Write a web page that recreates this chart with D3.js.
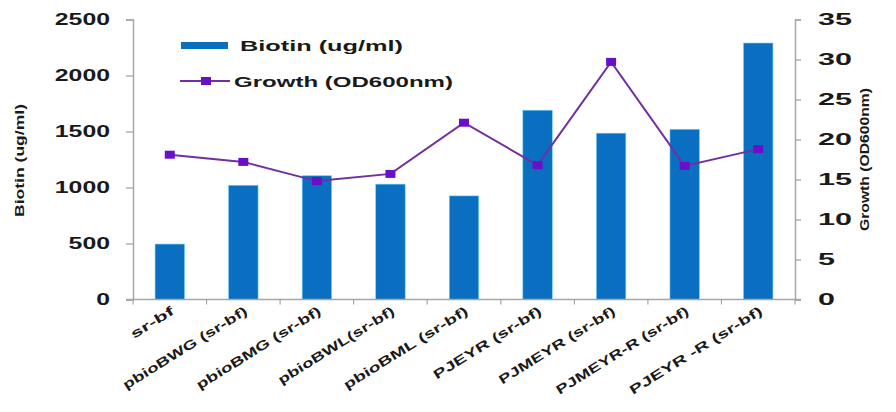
<!DOCTYPE html>
<html>
<head>
<meta charset="utf-8">
<script src="https://cdn.jsdelivr.net/npm/d3@7"></script>
<style>
  html, body { margin: 0; padding: 0; background: #fff; }
  svg { display: block; }
  text { font-family: "Liberation Sans", Arial, sans-serif; font-weight: bold; fill: #1a1a1a; }
</style>
</head>
<body>
<svg id="chart" width="896" height="412"></svg>
<script>
// Strains tested
const categories = [
  "sr-bf", "pbioBWG (sr-bf)", "pbioBMG (sr-bf)", "pbioBWL(sr-bf)", "pbioBML (sr-bf)",
  "PJEYR (sr-bf)", "PJMEYR (sr-bf)", "PJMEYR-R (sr-bf)", "PJEYR -R (sr-bf)"
];
// Biotin yield (ug/ml), left axis
const biotin = [495, 1020, 1105, 1030, 925, 1690, 1485, 1520, 2290];
// Growth (OD600nm), right axis
const growth = [18.1, 17.2, 14.8, 15.7, 22.1, 16.8, 29.7, 16.7, 18.8];
const leftTicks = [0, 500, 1000, 1500, 2000, 2500];
const rightTicks = [0, 5, 10, 15, 20, 25, 30, 35];

const svg = d3.select("#chart");
const L = 133, R = 795, T = 19.5, B = 299.5;
const axisColor = "#a6a6a6";
const barColor = "#0a6fc1";
const lineColor = "#7030a0";
const markerColor = "#6a0fc8";

const x = d3.scaleBand().domain(categories).range([L, R]).paddingInner(0.6).paddingOuter(0.3);
const yL = d3.scaleLinear().domain([0, 2500]).range([B, T]);
const yR = d3.scaleLinear().domain([0, 35]).range([B, T]);

// Bars
svg.append("g").selectAll("rect").data(categories).join("rect")
  .attr("x", d => x(d))
  .attr("width", x.bandwidth())
  .attr("y", (d, i) => yL(biotin[i]))
  .attr("height", (d, i) => B - yL(biotin[i]))
  .attr("fill", barColor)
  .attr("stroke", "#6fd0f5").attr("stroke-width", 0.6);

// Left axis
const gL = svg.append("g").attr("transform", `translate(${L},0)`)
  .call(d3.axisLeft(yL).tickValues(leftTicks).tickFormat(d3.format("d")).tickSize(7).tickPadding(16));
gL.select(".domain").attr("stroke", axisColor).attr("stroke-width", 1.5);
gL.selectAll(".tick line").attr("stroke", axisColor).attr("stroke-width", 1.3);
gL.selectAll(".tick text")
  .attr("font-size", 17).attr("font-family", "Liberation Sans, Arial, sans-serif")
  .attr("font-weight", "bold").attr("fill", "#1a1a1a")
  .attr("textLength", d => String(d).length * 13.8).attr("lengthAdjust", "spacingAndGlyphs");

// Right axis
const gR = svg.append("g").attr("transform", `translate(${R},0)`)
  .call(d3.axisRight(yR).tickValues(rightTicks).tickFormat(d3.format("d")).tickSize(6).tickPadding(17));
gR.select(".domain").attr("stroke", axisColor).attr("stroke-width", 1.5);
gR.selectAll(".tick line").attr("stroke", axisColor).attr("stroke-width", 1.3);
gR.selectAll(".tick text")
  .attr("font-size", 17).attr("font-family", "Liberation Sans, Arial, sans-serif")
  .attr("font-weight", "bold").attr("fill", "#1a1a1a")
  .attr("textLength", d => String(d).length * 17).attr("lengthAdjust", "spacingAndGlyphs");

// Category axis with boundary ticks
svg.append("line").attr("x1", L - 7).attr("x2", R + 6).attr("y1", B).attr("y2", B)
  .attr("stroke", axisColor).attr("stroke-width", 1.5);
const step = x.step();
svg.append("g").selectAll("line").data(d3.range(categories.length + 1)).join("line")
  .attr("x1", i => L + i * step).attr("x2", i => L + i * step)
  .attr("y1", B).attr("y2", B + 5)
  .attr("stroke", axisColor).attr("stroke-width", 1.2);

svg.append("g").selectAll("text").data(categories).join("text")
  .attr("transform", d => `translate(${x(d) + x.bandwidth() / 2 + 5},${B + 14}) rotate(-32)`)
  .attr("text-anchor", "end")
  .attr("font-size", 13)
  .attr("font-weight", 600)
  .attr("fill", "#262626")
  .attr("textLength", d => d.length * 9.6).attr("lengthAdjust", "spacingAndGlyphs")
  .text(d => d);

// Growth line and markers
const cx = d => x(d) + x.bandwidth() / 2;
svg.append("path").datum(categories)
  .attr("d", d3.line().x(cx).y((d, i) => yR(growth[i])))
  .attr("fill", "none").attr("stroke", lineColor).attr("stroke-width", 2);
svg.append("g").selectAll("rect").data(categories).join("rect")
  .attr("x", d => cx(d) - 5).attr("y", (d, i) => yR(growth[i]) - 4)
  .attr("width", 10).attr("height", 8)
  .attr("fill", markerColor);

// Axis titles
svg.append("text")
  .attr("transform", `translate(24,${(T + B) / 2 + 1}) rotate(-90)`)
  .attr("text-anchor", "middle").attr("font-size", 12)
  .attr("textLength", 113).attr("lengthAdjust", "spacingAndGlyphs")
  .text("Biotin (ug/ml)");
svg.append("text")
  .attr("transform", `translate(869,${(T + B) / 2}) rotate(-90)`)
  .attr("text-anchor", "middle").attr("font-size", 13)
  .attr("textLength", 143).attr("lengthAdjust", "spacingAndGlyphs")
  .text("Growth (OD600nm)");

// Legend
const lg = svg.append("g");
lg.append("rect").attr("x", 181).attr("y", 42).attr("width", 47).attr("height", 7).attr("fill", barColor);
lg.append("text").attr("x", 240).attr("y", 51).attr("font-size", 15)
  .attr("textLength", 163).attr("lengthAdjust", "spacingAndGlyphs")
  .text("Biotin (ug/ml)");
lg.append("line").attr("x1", 180).attr("x2", 230).attr("y1", 81).attr("y2", 81)
  .attr("stroke", lineColor).attr("stroke-width", 2);
lg.append("rect").attr("x", 201).attr("y", 77).attr("width", 10).attr("height", 8).attr("fill", markerColor);
lg.append("text").attr("x", 234).attr("y", 87).attr("font-size", 15)
  .attr("textLength", 219).attr("lengthAdjust", "spacingAndGlyphs")
  .text("Growth (OD600nm)");
</script>
</body>
</html>
